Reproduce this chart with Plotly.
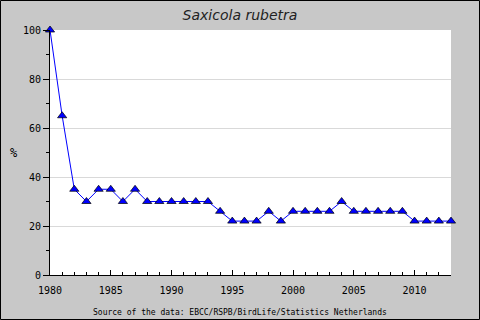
import plotly.graph_objects as go

years = list(range(1980, 2014))
values = [100, 65, 35, 30, 35, 35, 30, 35, 30, 30,
          30, 30, 30, 30, 26, 22, 22, 22, 26, 22,
          26, 26, 26, 26, 30, 26, 26, 26, 26, 26,
          22, 22, 22, 22]
x_ticks = [1980, 1985, 1990, 1995, 2000, 2005, 2010]
y_ticks = [0, 20, 40, 60, 80, 100]
title_text = "Saxicola rubetra"
y_label = "%"
source_text = "Source of the data: EBCC/RSPB/BirdLife/Statistics Netherlands"

W, H = 480, 320
ml, mr, mt, mb = 50, 29, 30, 45
pw, ph = W - ml - mr, H - mt - mb


def px_x(p):
    return (p - ml) / pw


def px_y(p):
    return (H - mb - p) / ph


fig = go.Figure()
fig.add_trace(go.Scatter(
    x=years, y=values, mode="lines+markers",
    line=dict(color="#0000ff", width=1),
    marker=dict(symbol="triangle-up", size=8, color="#0000ff",
                line=dict(color="black", width=0.7)),
    cliponaxis=False, showlegend=False, hoverinfo="skip",
))

mono = "DejaVu Sans Mono"
fig.update_layout(
    template="none",
    width=W, height=H, autosize=False,
    margin=dict(l=ml, r=mr, t=mt, b=mb, pad=0, autoexpand=False),
    paper_bgcolor="#c8c8c8", plot_bgcolor="white",
    title=dict(text=title_text, x=px_x(240), xref="paper", xanchor="center",
               y=1 - 15 / H, yanchor="middle",
               font=dict(family="DejaVu Sans", size=14, color="#222222", style="italic")),
    xaxis=dict(range=[1980, 2013], tickvals=x_ticks, ticks="inside", ticklen=5,
               tickcolor="black", showline=True, linecolor="black", linewidth=1,
               showgrid=False, zeroline=False, automargin=False, ticklabelstandoff=6,
               minor=dict(dtick=1, tick0=1980, ticks="inside", ticklen=3, tickcolor="black", showgrid=False),
               tickfont=dict(family=mono, size=10, color="black")),
    yaxis=dict(range=[0, 100], tickvals=y_ticks, ticks="outside", ticklen=6,
               tickcolor="black", showline=True, linecolor="black", linewidth=1,
               showgrid=True, gridcolor="#d9d9d9", gridwidth=1, zeroline=False, automargin=False,
               minor=dict(dtick=10, tick0=0, ticks="outside", ticklen=3, tickcolor="black", showgrid=False),
               tickfont=dict(family=mono, size=10, color="black")),
    annotations=[
        dict(text=source_text, xref="paper", yref="paper",
             x=px_x(240), y=px_y(312), xanchor="center", yanchor="middle",
             showarrow=False, font=dict(family=mono, size=8, color="black")),
        dict(text=y_label, xref="paper", yref="paper",
             x=px_x(14), y=px_y(153), xanchor="center", yanchor="middle",
             showarrow=False, font=dict(family=mono, size=12, color="black")),
    ],
    shapes=[dict(type="rect", xref="paper", yref="paper",
                 x0=px_x(0.5), x1=px_x(W - 0.5),
                 y0=px_y(H - 0.5), y1=px_y(0.5),
                 line=dict(color="black", width=1), layer="above")],
)

fig.write_html("out.html", config={"displayModeBar": False},
               post_script="document.body.style.margin='0';")
